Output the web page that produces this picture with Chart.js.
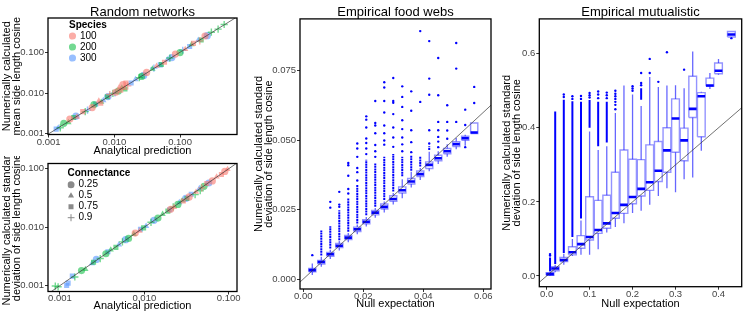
<!DOCTYPE html>
<html>
<head>
<meta charset="utf-8">
<script src="https://cdn.jsdelivr.net/npm/chart.js@4.4.1/dist/chart.umd.min.js"></script>
<style>
  html, body { margin: 0; padding: 0; background: #fff; }
  #wrap { position: relative; width: 747px; height: 312px; overflow: hidden; }
  canvas { position: absolute; }
</style>
</head>
<body>
<div id="wrap">
  <canvas id="meanChart" width="245" height="156" style="left:0px;top:0px"></canvas>
  <canvas id="sdChart" width="245" height="156" style="left:0px;top:156px"></canvas>
  <canvas id="foodChart" width="245" height="312" style="left:250px;top:0px"></canvas>
  <canvas id="mutChart" width="250" height="312" style="left:497px;top:0px"></canvas>
</div>
<script>
Chart.defaults.font.family = '"Liberation Sans", Arial, sans-serif';
Chart.defaults.color = '#333';
Chart.defaults.animation = false;
Chart.defaults.events = [];

// random networks: colour = species, shape = connectance
const speciesNames = ['100', '200', '300'];
const speciesColors = ['rgba(248,118,109,0.6)', 'rgba(0,186,56,0.55)', 'rgba(97,156,255,0.65)'];
const connectanceNames = ['0.25', '0.5', '0.75', '0.9'];
const connectanceShapes = ['circle', 'triangle', 'rect', 'cross'];
const logTicks = [0.001, 0.01, 0.1];

// mean side length cosine (top left)
const mean100X = [0.0021, 0.0027, 0.0033, 0.0046, 0.0058, 0.0062, 0.0085, 0.0105, 0.0118, 0.0125, 0.0135, 0.0142, 0.015, 0.016, 0.031, 0.044, 0.058, 0.085, 0.12, 0.16, 0.2, 0.24];
const mean100Y = [0.0023, 0.0026, 0.0035, 0.0044, 0.0064, 0.0056, 0.0092, 0.0104, 0.0135, 0.0118, 0.016, 0.0131, 0.0175, 0.015, 0.032, 0.046, 0.057, 0.09, 0.118, 0.165, 0.19, 0.25];
const mean100C = [0, 1, 2, 0, 1, 2, 3, 0, 1, 2, 0, 1, 2, 3, 0, 1, 2, 0, 1, 2, 3, 0];
const mean200X = [0.0015, 0.0017, 0.002, 0.0024, 0.0036, 0.0049, 0.0063, 0.0078, 0.0095, 0.0115, 0.013, 0.0145, 0.024, 0.026, 0.038, 0.052, 0.07, 0.1, 0.15, 0.21, 0.3, 0.38, 0.47];
const mean200Y = [0.0014, 0.0018, 0.0019, 0.0025, 0.0035, 0.0052, 0.006, 0.0081, 0.0098, 0.0112, 0.0134, 0.0125, 0.0238, 0.0255, 0.039, 0.05, 0.072, 0.098, 0.155, 0.2, 0.31, 0.37, 0.48];
const mean200C = [3, 0, 1, 2, 3, 0, 1, 2, 3, 0, 1, 2, 3, 0, 1, 2, 3, 0, 1, 2, 3, 3, 3];
const mean300X = [0.0013, 0.0014, 0.0026, 0.0039, 0.0052, 0.0068, 0.008, 0.0102, 0.018, 0.021, 0.028, 0.04, 0.05, 0.064, 0.075, 0.11, 0.14, 0.19, 0.26];
const mean300Y = [0.0013, 0.0014, 0.0027, 0.0038, 0.0053, 0.0066, 0.0082, 0.01, 0.0176, 0.0215, 0.027, 0.041, 0.049, 0.066, 0.074, 0.112, 0.138, 0.2, 0.255];
const mean300C = [2, 1, 0, 3, 2, 1, 0, 3, 2, 1, 0, 3, 2, 1, 0, 3, 2, 1, 0];

// standard deviation of side length cosine (bottom left)
const sd100X = [0.0078, 0.0088, 0.0205, 0.0225, 0.029, 0.034, 0.041, 0.048, 0.055, 0.064, 0.072, 0.082, 0.09, 0.097];
const sd100Y = [0.0079, 0.0086, 0.0202, 0.022, 0.028, 0.033, 0.04, 0.047, 0.056, 0.062, 0.073, 0.08, 0.09, 0.098];
const sd100C = [0, 1, 0, 1, 2, 0, 1, 3, 2, 0, 1, 2, 0, 1];
const sd200X = [0.00088, 0.00095, 0.0015, 0.0018, 0.002, 0.0025, 0.003, 0.0035, 0.004, 0.0046, 0.0055, 0.0065, 0.0075, 0.0098, 0.012, 0.0145, 0.0165, 0.019, 0.022, 0.025, 0.028, 0.032, 0.04, 0.046, 0.051];
const sd200Y = [0.00098, 0.00095, 0.0014, 0.0018, 0.0019, 0.0025, 0.0029, 0.0035, 0.0041, 0.0045, 0.0056, 0.0064, 0.0076, 0.0097, 0.0121, 0.0143, 0.0167, 0.0188, 0.0222, 0.0245, 0.0283, 0.031, 0.036, 0.042, 0.05];
const sd200C = [3, 3, 3, 0, 1, 2, 3, 0, 1, 2, 3, 0, 1, 2, 3, 0, 1, 2, 3, 0, 1, 2, 3, 3, 0];
const sd300X = [0.0012, 0.00125, 0.0014, 0.0024, 0.0027, 0.0037, 0.005, 0.006, 0.009, 0.0105, 0.013, 0.02, 0.026, 0.031, 0.036, 0.045, 0.058];
const sd300Y = [0.001, 0.0011, 0.00145, 0.0024, 0.0028, 0.0038, 0.005, 0.0061, 0.0092, 0.0104, 0.0131, 0.0198, 0.0265, 0.031, 0.0365, 0.046, 0.057];
const sd300C = [2, 2, 2, 1, 0, 2, 1, 0, 2, 1, 0, 2, 1, 0, 2, 1, 0];

// empirical food webs: one box per null expectation bin
const foodX = [0.003, 0.006, 0.009, 0.012, 0.015, 0.018, 0.021, 0.024, 0.027, 0.03, 0.033, 0.036, 0.039, 0.042, 0.045, 0.048, 0.051, 0.054, 0.057];
const foodLo = [0.0014, 0.0044, 0.0072, 0.0103, 0.0132, 0.0161, 0.0189, 0.0221, 0.024, 0.0268, 0.0291, 0.033, 0.0357, 0.0388, 0.0414, 0.044, 0.0467, 0.048, 0.0524];
const foodQ1 = [0.0026, 0.0054, 0.0082, 0.0113, 0.0142, 0.0171, 0.0199, 0.0231, 0.0252, 0.028, 0.031, 0.0342, 0.0369, 0.0398, 0.0426, 0.0451, 0.0477, 0.05, 0.0524];
const foodMed = [0.0032, 0.0061, 0.0089, 0.012, 0.0149, 0.0179, 0.0206, 0.0239, 0.026, 0.0288, 0.032, 0.0351, 0.0378, 0.0411, 0.0435, 0.046, 0.0486, 0.0507, 0.0528];
const foodQ3 = [0.0038, 0.0067, 0.0096, 0.0128, 0.0157, 0.0187, 0.0214, 0.0247, 0.027, 0.03, 0.0332, 0.0362, 0.0389, 0.0422, 0.0446, 0.047, 0.0495, 0.0514, 0.0562];
const foodHi = [0.0056, 0.008, 0.0105, 0.0137, 0.0166, 0.0196, 0.0223, 0.0256, 0.0279, 0.031, 0.0359, 0.0386, 0.04, 0.0458, 0.046, 0.0485, 0.0508, 0.052, 0.0562];
const foodDenseLo = [null, 0.0085, 0.011, 0.014, 0.017, 0.02, 0.023, 0.026, 0.0285, 0.0315, 0.037, 0.039, 0.0405, 0.0465, null, null, null, null, null];
const foodDenseHi = [null, 0.0175, 0.019, 0.0248, 0.029, 0.034, 0.043, 0.0416, 0.044, 0.045, 0.044, 0.0445, 0.044, 0.0478, null, null, null, null, null];
const foodOut = [
  [0.0086],
  [],
  [0.0257, 0.0278],
  [0.026, 0.0268, 0.0314],
  [0.0308, 0.0324, 0.0372, 0.041, 0.0418],
  [0.0355, 0.0385, 0.04, 0.044, 0.047, 0.0488],
  [0.045, 0.047, 0.049, 0.0506, 0.0546, 0.0574, 0.0586],
  [0.044, 0.046, 0.0483, 0.0525, 0.0553, 0.0562, 0.0641],
  [0.0484, 0.0499, 0.0525, 0.0553, 0.06, 0.0641, 0.069, 0.0709],
  [0.0476, 0.051, 0.0546, 0.0594, 0.0635, 0.0641, 0.0724],
  [0.046, 0.0485, 0.051, 0.054, 0.0572, 0.062, 0.0656, 0.0694],
  [0.0457, 0.0493, 0.0536, 0.0606, 0.0676],
  [0.0638, 0.0893],
  [0.0488, 0.0536, 0.0664, 0.0722, 0.0857],
  [0.0475, 0.0495, 0.0512, 0.0536, 0.0566, 0.0662, 0.0796],
  [0.0505, 0.0535, 0.0566, 0.0626],
  [0.0566, 0.0758, 0.085],
  [0.0475, 0.0555, 0.061],
  [0.0634, 0.0692]
];

// empirical mutualistic networks
const mutX = [0.008, 0.02, 0.04, 0.06, 0.08, 0.1, 0.12, 0.14, 0.16, 0.18, 0.2, 0.22, 0.24, 0.26, 0.28, 0.3, 0.32, 0.34, 0.36, 0.38, 0.4, 0.43];
const mutLo = [0.0, 0.01, 0.03, 0.054, 0.057, 0.057, 0.072, 0.117, 0.132, 0.142, 0.17, 0.176, 0.192, 0.216, 0.237, 0.226, 0.261, 0.266, 0.338, 0.505, 0.543, 0.645];
const mutQ1 = [0.002, 0.014, 0.039, 0.057, 0.075, 0.097, 0.115, 0.129, 0.156, 0.169, 0.195, 0.216, 0.231, 0.255, 0.28, 0.334, 0.311, 0.428, 0.376, 0.512, 0.546, 0.645];
const mutMed = [0.005, 0.02, 0.043, 0.064, 0.086, 0.105, 0.124, 0.142, 0.17, 0.192, 0.213, 0.235, 0.253, 0.284, 0.339, 0.425, 0.366, 0.451, 0.485, 0.514, 0.554, 0.652];
const mutQ3 = [0.009, 0.025, 0.05, 0.079, 0.109, 0.214, 0.204, 0.218, 0.28, 0.34, 0.315, 0.314, 0.354, 0.363, 0.4, 0.478, 0.399, 0.539, 0.495, 0.534, 0.575, 0.66];
const mutHi = [0.012, 0.03, 0.06, 0.1, 0.15, 0.39, 0.34, 0.35, 0.44, 0.514, 0.49, 0.459, 0.537, 0.51, 0.514, 0.515, 0.507, 0.606, 0.497, 0.548, 0.586, 0.66];
const mutDenseLo = [0.013, 0.032, 0.062, 0.105, 0.155, 0.4, 0.35, 0.36, null, null, null, 0.476, null, null, null, null, null, null, null, null, null, null];
const mutDenseHi = [0.05, 0.444, 0.476, 0.472, 0.47, 0.475, 0.47, 0.47, null, null, null, 0.507, null, null, null, null, null, null, null, null, null, null];
const mutOut = [
  [0.055, 0.059], [], [0.483, 0.49], [0.478, 0.485], [0.478, 0.486],
  [0.482, 0.488, 0.494], [0.48, 0.49, 0.498], [0.48, 0.488, 0.495],
  [0.45, 0.462, 0.47, 0.478, 0.485, 0.492, 0.5], [], [0.5, 0.506, 0.512],
  [0.515, 0.521, 0.548], [0.548, 0.586], [0.524], [0.604], [], [0.557],
  [], [], [], [], [0.642]
];

const tickFont = {size: 9.5, lineHeight: 1};
const tickColor = '#444';

// black frame round the panel
const framePlugin = {
  id: 'frame',
  afterDatasetsDraw(chart) {
    const {ctx, chartArea: a} = chart;
    ctx.save();
    ctx.strokeStyle = '#000';
    ctx.lineWidth = 1.3;
    ctx.strokeRect(a.left, a.top, a.right - a.left, a.bottom - a.top);
    ctx.restore();
  }
};

// the chartArea legend is put at the canvas top, move it into the panel
const legendShift = {
  id: 'legendShift',
  afterLayout(chart, args, opts) {
    const lg = chart.legend;
    if (!lg) return;
    const a = chart.chartArea;
    lg.left = a.left + (opts.dx || 0);
    lg.width = 80;
    lg.right = lg.left + lg.width;
    lg.top = a.top; lg.bottom = a.bottom;
  }
};

function axis(type, min, max, tickVals, fmt, title, size, pad, tickPad) {
  return {
    type: type, min: min, max: max,
    afterBuildTicks: s => { s.ticks = tickVals.map(v => ({value: v})); },
    afterFit: s => { if (s.isHorizontal()) s.height = size; else s.width = size; },
    ticks: {callback: v => v.toFixed(fmt), autoSkip: false, maxRotation: 0, padding: tickPad, font: tickFont, color: tickColor},
    grid: {drawOnChartArea: false, tickLength: 3, color: '#333'},
    border: {display: false},
    title: {display: true, text: title, color: '#000', font: {size: 11, lineHeight: 0.9}, padding: pad}
  };
}

function pointSets(sets) {
  return sets.map((s, i) => ({
    data: s[0].map((v, j) => ({x: v, y: s[1][j]})),
    pointStyle: s[2].map(k => connectanceShapes[k]),
    pointRadius: 3.6,
    backgroundColor: speciesColors[i],
    borderColor: speciesColors[i],
    pointBorderWidth: s[2].map(k => k === 3 ? 1.4 : 0)
  }));
}

const speciesLegend = () => speciesNames.map((s, i) => ({
  text: s, fillStyle: speciesColors[i], strokeStyle: speciesColors[i], lineWidth: 0, pointStyle: 'circle', hidden: false
}));
const connectanceLegend = () => connectanceNames.map((s, i) => ({
  text: s, fillStyle: '#8a8a8a', strokeStyle: '#8a8a8a', lineWidth: i === 3 ? 1 : 0, pointStyle: connectanceShapes[i], hidden: false
}));

function legendOpts(title, gen, titlePadTop) {
  return {
    position: 'chartArea', align: 'start',
    title: {display: true, text: title, position: 'start', color: '#000', font: {size: 10, weight: 'bold', lineHeight: 1}, padding: {top: titlePadTop, bottom: 0}},
    labels: {usePointStyle: true, boxWidth: 5, boxHeight: 5, padding: 1, color: '#000', font: {size: 10}, generateLabels: gen}
  };
}

const diag = (lo, hi) => ({
  data: [{x: lo, y: lo}, {x: hi, y: hi}],
  showLine: true, borderColor: '#333', borderWidth: 0.7, pointRadius: 0
});

new Chart(document.getElementById('meanChart'), {
  type: 'scatter',
  data: {datasets: [diag(0.0005, 1)].concat(pointSets([
    [mean100X, mean100Y, mean100C], [mean200X, mean200Y, mean200C], [mean300X, mean300Y, mean300C]
  ]))},
  options: {
    responsive: false,
    layout: {padding: {left: 0, top: 0, right: 8, bottom: 0}},
    scales: {
      x: axis('logarithmic', 0.000976, 0.737, logTicks, 3, 'Analytical prediction', 21.5, {top: 0, bottom: 0}, 0),
      y: axis('logarithmic', 0.00096, 0.692, logTicks, 3, ['Numerically calculated', 'mean side length cosine'], 48, {top: 2.5, bottom: 0}, 1)
    },
    plugins: {
      title: {display: true, fullSize: false, text: 'Random networks', color: '#000', font: {size: 13, weight: 'normal', lineHeight: 0.9}, padding: {top: 6.2, bottom: 0.1}},
      legend: legendOpts('Species', speciesLegend, 2),
      legendShift: {dx: 21},
      tooltip: {enabled: false}
    }
  },
  plugins: [framePlugin, legendShift]
});

new Chart(document.getElementById('sdChart'), {
  type: 'scatter',
  data: {datasets: [diag(0.0005, 1)].concat(pointSets([
    [sd100X, sd100Y, sd100C], [sd200X, sd200Y, sd200C], [sd300X, sd300Y, sd300C]
  ]))},
  options: {
    responsive: false,
    layout: {padding: {left: 0, top: 7.5, right: 8, bottom: 0}},
    scales: {
      x: axis('logarithmic', 0.000721, 0.1255, logTicks, 3, 'Analytical prediction', 20.5, {top: 0, bottom: 1}, -0.5),
      y: axis('logarithmic', 0.00079, 0.1231, logTicks, 3, ['Numerically calculated standard', 'deviation of side length cosine'], 48, {top: 2.5, bottom: 0}, 1)
    },
    plugins: {
      title: {display: false},
      legend: legendOpts('Connectance', connectanceLegend, 5.2),
      legendShift: {dx: 19.5},
      tooltip: {enabled: false}
    }
  },
  plugins: [framePlugin, legendShift]
});

function boxSets(d, w, dash) {
  const gap = x => ({x: x, y: null});
  const boxPts = [], whiskPts = [], medPts = [], densePts = [], outPts = [];
  d.x.forEach((x, i) => {
    boxPts.push({x: x - w, y: d.q1[i]}, {x: x + w, y: d.q1[i]}, {x: x + w, y: d.q3[i]}, {x: x - w, y: d.q3[i]}, {x: x - w, y: d.q1[i]}, gap(x));
    whiskPts.push({x: x, y: d.q3[i]}, {x: x, y: d.hi[i]}, gap(x), {x: x, y: d.lo[i]}, {x: x, y: d.q1[i]}, gap(x));
    medPts.push({x: x - w, y: d.med[i]}, {x: x + w, y: d.med[i]}, gap(x));
    if (d.denseLo[i] !== null) densePts.push({x: x, y: d.denseLo[i]}, {x: x, y: d.denseHi[i]}, gap(x));
    d.out[i].forEach(v => outPts.push({x: x, y: v}));
  });
  return [
    diag(-1, 1),
    {data: medPts, showLine: true, borderColor: '#0000ff', borderWidth: 2.6, borderCapStyle: 'butt', pointRadius: 0},
    {data: boxPts, showLine: true, borderColor: 'rgba(40,40,255,0.5)', borderWidth: 1.4, pointRadius: 0},
    {data: whiskPts, showLine: true, borderColor: 'rgba(0,0,255,0.6)', borderWidth: 1.3, pointRadius: 0},
    {data: densePts, showLine: true, borderColor: '#0000ff', borderWidth: 2, borderDash: dash, pointRadius: 0},
    {data: outPts, pointRadius: 1.2, pointBorderWidth: 0, backgroundColor: '#0000ff', borderColor: '#0000ff'}
  ];
}

function boxOptions(title, xAxis, yAxis, padRight) {
  return {
    responsive: false,
    layout: {padding: {left: 0, top: 0, right: padRight, bottom: 0}},
    scales: {x: xAxis, y: yAxis},
    plugins: {
      title: {display: true, fullSize: false, text: title, color: '#000', font: {size: 13, weight: 'normal', lineHeight: 0.9}, padding: {top: 6.2, bottom: 1}},
      legend: {display: false},
      tooltip: {enabled: false}
    }
  };
}

const sdTitle = ['Numerically calculated standard', 'deviation of side length cosine'];

new Chart(document.getElementById('foodChart'), {
  type: 'scatter',
  data: {datasets: boxSets({x: foodX, lo: foodLo, q1: foodQ1, med: foodMed, q3: foodQ3, hi: foodHi, denseLo: foodDenseLo, denseHi: foodDenseHi, out: foodOut}, 0.0012, [2, 0.6])},
  options: boxOptions('Empirical food webs',
    axis('linear', -0.0011, 0.0626, [0, 0.02, 0.04, 0.06], 2, 'Null expectation', 23, {top: 0, bottom: 3}, 0),
    axis('linear', -0.0036, 0.0937, [0, 0.025, 0.05, 0.075], 3, sdTitle, 50, {top: 4, bottom: 0}, 1),
    4),
  plugins: [framePlugin]
});

new Chart(document.getElementById('mutChart'), {
  type: 'scatter',
  data: {datasets: boxSets({x: mutX, lo: mutLo, q1: mutQ1, med: mutMed, q3: mutQ3, hi: mutHi, denseLo: mutDenseLo, denseHi: mutDenseHi, out: mutOut}, 0.009, [])},
  options: boxOptions('Empirical mutualistic',
    axis('linear', -0.017, 0.454, [0, 0.1, 0.2, 0.3, 0.4], 1, 'Null expectation', 25.3, {top: 0, bottom: 3.5}, 0),
    axis('linear', -0.029, 0.694, [0, 0.2, 0.4, 0.6], 1, sdTitle, 42.3, {top: 5, bottom: 0}, 1),
    5.3),
  plugins: [framePlugin]
});
</script>
</body>
</html>
